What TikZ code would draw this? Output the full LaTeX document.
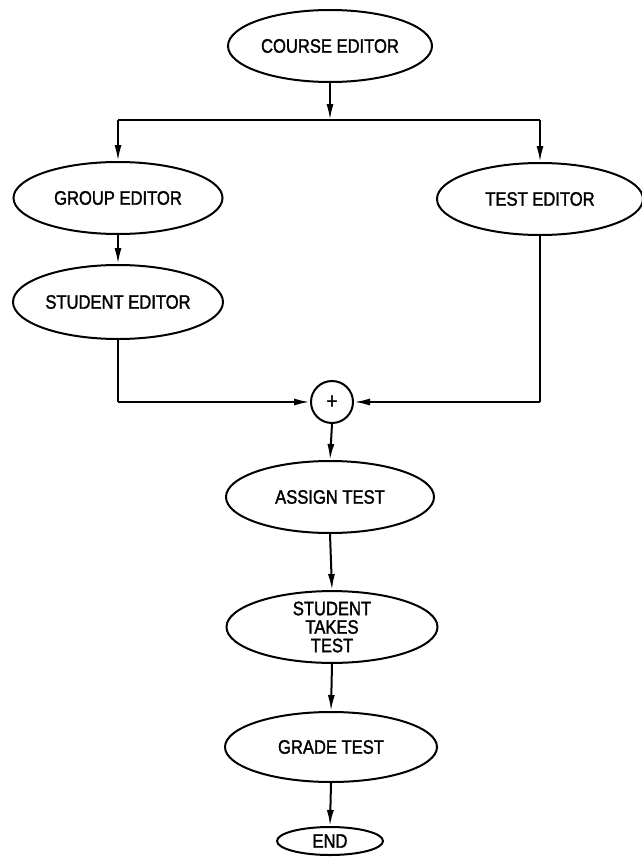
\documentclass[tikz,border=0pt]{standalone}
\usepackage{fontspec}
\setmainfont[FakeStretch=0.85,FakeBold=1.6]{Liberation Sans}
\usetikzlibrary{shapes.geometric,arrows.meta}
\begin{document}
\begin{tikzpicture}[x=1pt,y=-1pt,
  box/.style={draw,ellipse,line width=2pt,inner sep=0pt,minimum width=208pt,minimum height=72pt,font=\fontsize{19.5}{18.5}\selectfont,align=center},
  conn/.style={line width=2pt},
  arr/.style={conn,-{Latex[length=16pt,width=7pt]}}]
\useasboundingbox (0,0) rectangle (641,859);
\node[box,minimum width=204pt] (course) at (330,46) {COURSE EDITOR};
\node[box,minimum width=209pt] (group) at (118,198) {GROUP EDITOR};
\node[box,minimum width=206pt] (tested) at (540,199) {TEST EDITOR};
\node[box,minimum width=210pt,minimum height=74pt] (student) at (118,302) {STUDENT EDITOR};
\node[draw,circle,line width=2pt,minimum size=42pt,inner sep=0pt,font=\fontsize{22}{22}\selectfont] (plus) at (332,402) {+};
\node[box] (assign) at (330,497) {ASSIGN TEST};
\node[box,minimum width=211pt,minimum height=70pt] (takes) at (332,627) {STUDENT\\TAKES\\TEST};
\node[box,minimum width=212pt,minimum height=70pt] (grade) at (331,747) {GRADE TEST};
\node[box,minimum width=106pt,minimum height=28pt] (end) at (330,841) {END};
\coordinate (j) at (330,120);
\coordinate (jl) at (118,120);
\coordinate (jr) at (540,120);
\coordinate (sl) at (118,402);
\coordinate (sr) at (540,402);
\draw[arr] (course.south) -- (j);
\draw[conn] (jl) -- (jr);
\draw[arr] (jl) -- (group.north);
\draw[arr] (jr) -- (tested.north);
\draw[arr] (group.south) -- (student.north);
\draw[conn] (student.south) -- (sl);
\draw[arr] (sl) -- (plus.west);
\draw[conn] (tested.south) -- (sr);
\draw[arr] (sr) -- (plus.east);
\draw[arr] (plus.south) -- (assign.north);
\draw[arr] (assign.south) -- (takes.north);
\draw[arr] (takes.south) -- (grade.north);
\draw[arr] (grade.south) -- (end.north);
\end{tikzpicture}
\end{document}
